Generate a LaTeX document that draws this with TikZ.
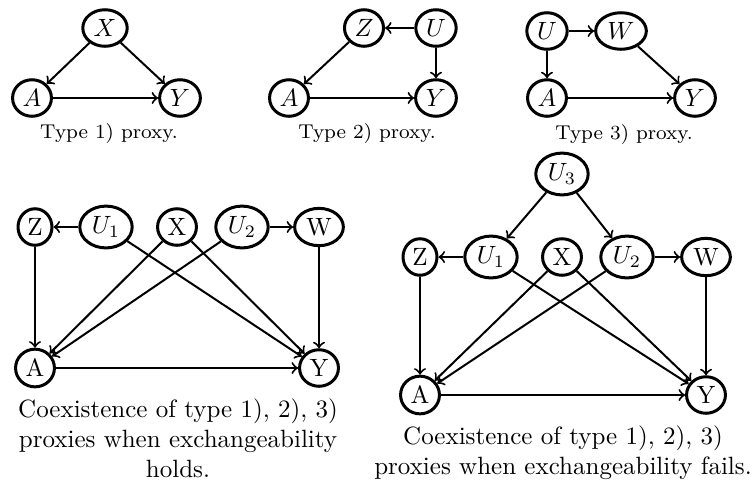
\documentclass[tikz,border=0pt]{standalone}
\usepackage{fontspec}
\usepackage{amsmath}
\usetikzlibrary{shapes.geometric}

\tikzset{
  var/.style={draw, ellipse, very thick, inner sep=1.75pt},
  arr/.style={->, thick},
  captext/.style={align=center, font=\fontsize{8}{9.6}\selectfont},
}

\begin{document}
\begin{tikzpicture}[x=0.4pt, y=-0.4pt]
  \useasboundingbox (0,0) rectangle (753,482);

  % type 1
  \node[var] (x1) at (105,28) {$X$};
  \node[var] (a1) at (32,98) {$A$};
  \node[var] (y1) at (180,98) {$Y$};
  \draw[arr] (x1) -- (a1);
  \draw[arr] (x1) -- (y1);
  \draw[arr] (a1) -- (y1);
  \node[captext] (c1) at (109,133) {Type 1) proxy.};

  % type 2
  \node[var] (z2) at (364,28) {$Z$};
  \node[var] (u2) at (436,28) {$U$};
  \node[var] (a2) at (289,98) {$A$};
  \node[var] (y2) at (436,98) {$Y$};
  \draw[arr] (u2) -- (z2);
  \draw[arr] (z2) -- (a2);
  \draw[arr] (u2) -- (y2);
  \draw[arr] (a2) -- (y2);
  \node[captext] (c2) at (367,133) {Type 2) proxy.};

  % type 3
  \node[var] (u3) at (547,31) {$U$};
  \node[var] (w3) at (621,31) {$W$};
  \node[var] (a3) at (547,98) {$A$};
  \node[var] (y3) at (695,98) {$Y$};
  \draw[arr] (u3) -- (w3);
  \draw[arr] (u3) -- (a3);
  \draw[arr] (w3) -- (y3);
  \draw[arr] (a3) -- (y3);
  \node[captext] (c3) at (624,134) {Type 3) proxy.};

  % exchangeability holds
  \node[var] (z4) at (35,227) {Z};
  \node[var] (ua4) at (106,227) {$U_1$};
  \node[var] (x4) at (177,227) {X};
  \node[var] (ub4) at (242,227) {$U_2$};
  \node[var] (w4) at (319,227) {W};
  \node[var] (a4) at (35,368) {A};
  \node[var] (y4) at (319,368) {Y};
  \draw[arr] (ua4) -- (z4);
  \draw[arr] (ub4) -- (w4);
  \draw[arr] (z4) -- (a4);
  \draw[arr] (w4) -- (y4);
  \draw[arr] (ua4) -- (y4);
  \draw[arr] (x4) -- (a4);
  \draw[arr] (x4) -- (y4);
  \draw[arr] (ub4) -- (a4);
  \draw[arr] (a4) -- (y4);
  \node[captext, font=\normalsize] (c4) at (178,438)
    {Coexistence of type 1), 2), 3)\\proxies when exchangeability\\holds.};

  % exchangeability fails
  \node[var] (uc5) at (562,174) {$U_3$};
  \node[var] (z5) at (420,257) {Z};
  \node[var] (ua5) at (491,257) {$U_1$};
  \node[var] (x5) at (562,257) {X};
  \node[var] (ub5) at (627,257) {$U_2$};
  \node[var] (w5) at (706,257) {W};
  \node[var] (a5) at (420,395) {A};
  \node[var] (y5) at (706,395) {Y};
  \draw[arr] (uc5) -- (ua5);
  \draw[arr] (uc5) -- (ub5);
  \draw[arr] (ua5) -- (z5);
  \draw[arr] (ub5) -- (w5);
  \draw[arr] (z5) -- (a5);
  \draw[arr] (w5) -- (y5);
  \draw[arr] (ua5) -- (y5);
  \draw[arr] (x5) -- (a5);
  \draw[arr] (x5) -- (y5);
  \draw[arr] (ub5) -- (a5);
  \draw[arr] (a5) -- (y5);
  \node[captext, font=\normalsize] (c5) at (563,453)
    {Coexistence of type 1), 2), 3)\\proxies when exchangeability fails.};
\end{tikzpicture}
\end{document}
